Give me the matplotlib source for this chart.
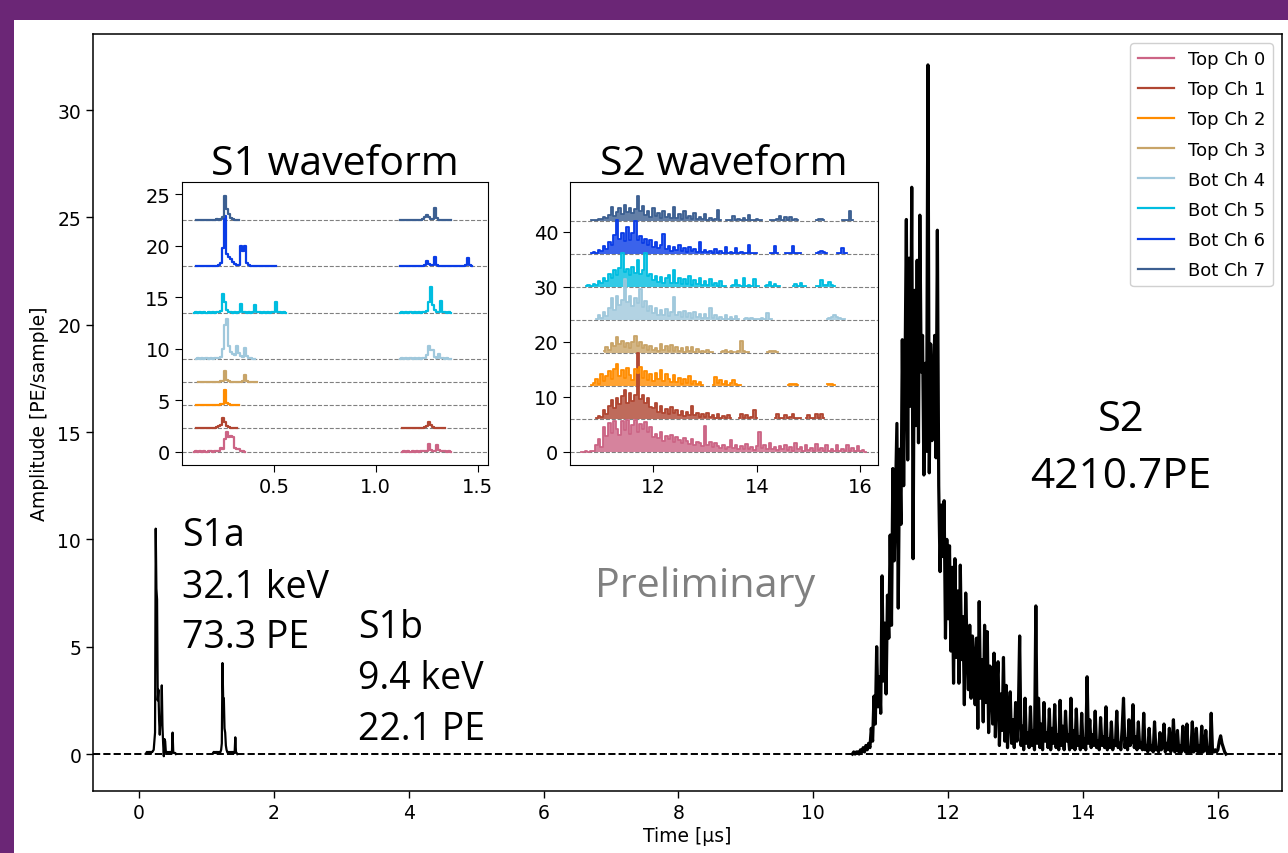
import numpy as np
import matplotlib
matplotlib.use("Agg")
import matplotlib.pyplot as plt
from matplotlib.lines import Line2D
from matplotlib.patches import Rectangle

# ---------------- data ----------------
channel_labels = ["Top Ch 0", "Top Ch 1", "Top Ch 2", "Top Ch 3",
                  "Bot Ch 4", "Bot Ch 5", "Bot Ch 6", "Bot Ch 7"]
channel_colors = ["#cc6485", "#b04632", "#ff8c00", "#c8a468",
                  "#a0c8dc", "#00bde0", "#0a3ce6", "#3c5f91"]

# main summed waveform (PE/sample)
main_dt_s1 = 0.01
s1a_start = 0.11
s1a_vals = [0.05, 0.1, 0.05, 0.1, 0.05, 0.1, 0.1, 0.05, 0.1, 0.1,
            0.15, 0.2, 0.6, 1.0, 10.5, 7.7, 7.2, 2.5, 3.0, 1.6,
            0.9, 1.6, 1.4, 3.2, 1.3, 0.5, -0.1, 0.7, 0.6, 0.1,
            0.05, 0.1, 0.05, 0.05, 0.1, 0.05, 0.1, 0.05, 0.05, 1.0,
            0.1, 0.05, 0.05, 0.05, 0.0]
s1b_start = 1.10
s1b_vals = [0.05, 0.1, 0.05, 0.1, 0.05, 0.1, 0.05, 0.1, 0.05, 0.1,
            0.05, 0.1, 0.2, 0.5, 4.24, 2.6, 2.6, 1.2, 1.0, 0.4,
            0.2, 0.1, 0.05, 0.1, 0.05, 0.1, 0.05, 0.1, 0.05, 0.1,
            0.05, 0.1, 0.05, 0.78, 0.1, 0.05, 0.0]
main_dt_s2 = 0.02
s2_start = 10.58
s2_vals = [
    0.0, 0.1, 0.0, 0.1, 0.1, 0.0, 0.2, 0.1, 0.3, 0.1,
    0.4, 0.2, 0.5, 0.3, 1.2, 0.6, 2.7, 1.4, 5.0, 2.2,
    3.6, 1.9, 8.3, 3.4, 6.1, 2.8, 7.4, 5.4, 10.2, 6.0,
    13.3, 9.0, 12.1, 15.4, 6.8, 14.2, 10.7, 19.3, 12.5, 17.6,
    24.9, 13.7, 23.1, 16.2, 26.4, 9.1, 21.6, 15.3, 23.0, 14.5,
    25.1, 17.8, 19.5, 13.0, 18.2, 14.1, 32.1, 13.1, 19.1, 14.6,
    17.4, 19.5, 13.8, 24.4, 12.5, 8.5, 11.6, 9.2, 11.8, 5.4,
    10.0, 6.3, 9.7, 4.8, 8.7, 3.3, 9.1, 4.5, 7.6, 3.3,
    8.8, 4.4, 6.4, 2.3, 7.5, 5.1, 3.0, 6.0, 2.6, 5.5,
    4.4, 2.3, 5.4, 1.2, 7.1, 2.6, 4.4, 1.5, 6.0, 2.4,
    5.7, 1.0, 4.1, 3.3, 1.4, 4.7, 0.8, 3.1, 4.3, 0.4,
    2.8, 1.1, 4.5, 0.6, 3.2, 0.3, 2.0, 2.9, 0.5, 1.6,
    0.3, 2.4, 0.6, 1.8, 5.5, 0.4, 1.3, 0.2, 2.6, 0.5,
    1.0, 0.3, 2.2, 0.4, 1.1, 0.2, 6.9, 0.5, 2.6, 0.3,
    1.4, 0.2, 2.4, 0.6, 1.0, 0.3, 2.1, 0.2, 1.2, 0.5,
    2.3, 0.3, 0.9, 0.2, 2.5, 0.4, 1.3, 0.2, 2.0, 0.6,
    0.9, 0.2, 2.6, 0.3, 1.1, 0.2, 2.1, 0.4, 0.8, 0.2,
    1.9, 0.3, 0.7, 0.2, 3.6, 0.5, 1.6, 0.3, 0.9, 0.4,
    2.0, 0.3, 0.6, 0.2, 1.7, 0.4, 0.8, 0.3, 2.2, 0.2,
    0.7, 0.3, 1.5, 0.2, 0.6, 0.4, 2.0, 0.3, 0.5, 0.2,
    1.2, 2.6, 0.3, 0.7, 0.2, 1.6, 0.4, 0.6, 2.3, 0.3,
    0.8, 0.2, 1.5, 0.3, 0.5, 0.2, 1.9, 0.2, 0.4, 0.1,
    1.2, 0.2, 0.4, 0.1, 1.5, 0.2, 0.3, 0.1, 1.0, 0.2,
    0.3, 1.4, 0.1, 0.5, 0.2, 1.2, 0.1, 0.3, 1.6, 0.1,
    0.2, 1.1, 0.1, 0.4, 0.1, 1.3, 0.2, 0.1, 1.4, 0.1,
    0.3, 0.1, 1.5, 0.1, 0.2, 1.2, 0.1, 0.4, 0.1, 1.3,
    0.1, 0.2, 1.1, 0.1, 0.3, 0.1, 1.9, 0.1, 0.1, 0.2,
    0.1, 0.2, 0.6, 0.85, 0.5, 0.3, 0.1, 0.0]

# S1 inset: per channel, list of (segment start [us], values at 0.01 us)
s1_dt = 0.01
s1_offsets = [0, 2.25, 4.5, 6.75, 9, 13.5, 18, 22.5]
s1_ch0 = [(0.11, [0, 0.05, 0, 0.05, 0, 0.05, 0, 0.05, 0.05, 0, 0.05, 0.1, 0.1,
                  0.4, 0.3, 1.2, 1.9, 1.4, 1.5, 1.45, 0.4, 0.3, 0.3, 0.1, 0.05, 0]),
          (1.13, [0, 0.05, 0, 0.05, 0, 0.05, 0, 0.05, 0, 0.05, 0.05, 0.1, 0.1,
                  0.75, 0.2, 0.1, 0.1, 0.6, 0.2, 0.1, 0.05, 0.05, 0, 0.05, 0])]
s1_ch1 = [(0.12, [0, 0.05, 0, 0.05, 0, 0.05, 0, 0.05, 0, 0.05, 0.1, 0.2, 0.3,
                  1.0, 0.6, 0.2, 0.1, 0.05, 0.05, 0, 0]),
          (1.13, [0, 0.05, 0, 0.05, 0, 0.05, 0, 0.05, 0, 0.05, 0, 0.1, 0.2,
                  0.6, 0.3, 0.1, 0.05, 0, 0.05, 0, 0.05, 0])]
s1_ch2 = [(0.12, [0, 0.05, 0, 0.05, 0, 0.05, 0, 0.05, 0, 0.05, 0, 0.05, 0.1, 0.1,
                  1.5, 0.2, 0.1, 0.05, 0, 0.05, 0, 0])]
s1_ch3 = [(0.13, [0, 0.05, 0, 0.05, 0, 0.05, 0, 0.05, 0, 0.05, 0.05, 0.1, 0.1,
                  1.07, 0.2, 0.1, 0.05, 0.05, 0, 0.05, 0, 0.05, 0.1, 0.7, 0.1,
                  0.05, 0, 0.05, 0, 0])]
s1_ch4 = [(0.12, [0, 0.05, 0, 0.05, 0, 0.05, 0, 0.05, 0, 0.05, 0.05, 0.1, 0.2,
                  1.0, 3.3, 3.9, 1.3, 0.7, 0.5, 0.4, 1.3, 0.6, 0.3, 0.2, 1.1,
                  0.3, 0.1, 0.05, 0, 0]),
          (1.12, [0, 0.05, 0, 0.05, 0, 0.05, 0, 0.05, 0, 0.05, 0, 0.05, 0.1,
                  0.4, 1.3, 0.9, 0.9, 0.2, 0.1, 0.5, 0.1, 0.05, 0, 0.05, 0, 0])]
s1_ch5 = [(0.11, [0, 0.05, 0, 0.05, 0, 0.05, 0, 0.05, 0, 0.05, 0, 0.05, 0.1, 0.2,
                  1.8, 1.0, 0.3, 0.1, 0.05, 0, 0.05, 0, 0.05, 0.8, 0.1, 0.05, 0,
                  0.05, 0, 0.05, 0.7, 0.1, 0.05, 0, 0.05, 0, 0.05, 0, 0.05, 0.1,
                  1.0, 0.1, 0.05, 0, 0.05, 0]),
          (1.12, [0, 0.05, 0, 0.05, 0, 0.05, 0, 0.05, 0, 0.05, 0, 0.05, 0.1, 0.2,
                  1.0, 2.5, 0.7, 0.3, 0.1, 0.05, 1.1, 0.1, 0.05, 0, 0.05, 0])]
s1_ch6 = [(0.12, [0, 0.05, 0, 0.05, 0, 0.05, 0, 0.05, 0, 0.05, 0.05, 0.1,
                  0.3, 1.8, 4.9, 1.2, 0.9, 0.7, 0.4, 0.2, 0.1, 0.1, 2.0, 1.5,
                  2.0, 0.3, 0.1, 0.05, 0, 0.05, 0, 0.05, 0, 0.05, 0, 0.05, 0,
                  0.05, 0, 0]),
          (1.12, [0, 0.05, 0, 0.05, 0, 0.05, 0, 0.05, 0, 0.05, 0, 0.05, 0.1,
                  0.5, 0.2, 0.1, 0.1, 0.95, 0.1, 0.05, 0, 0.05, 0, 0.05, 0,
                  0.05, 0, 0.05, 0, 0.05, 0, 0.05, 0.1, 0.8, 0.1, 0])]
s1_ch7 = [(0.12, [0, 0.05, 0, 0.05, 0, 0.05, 0, 0.05, 0, 0.05, 0.1, 0.05, 0.1,
                  0.3, 2.3, 1.1, 0.6, 0.2, 0.1, 0.05, 0, 0]),
          (1.12, [0, 0.05, 0, 0.05, 0, 0.05, 0, 0.05, 0, 0.05, 0, 0.1,
                  0.3, 0.5, 0.3, 0.1, 0.1, 1.15, 0.2, 0.05, 0, 0.05, 0, 0.05, 0, 0])]
s1_channels = [s1_ch0, s1_ch1, s1_ch2, s1_ch3, s1_ch4, s1_ch5, s1_ch6, s1_ch7]

# S2 inset: per channel, list of (segment start [us], values at 0.05 us)
s2_dt = 0.05
s2_offsets = [0, 6, 12, 18, 24, 30, 36, 42]
s2_ch0 = [(10.60, [0.0, 0.0, 0.1, 0.0, 0.1, 0.2,
                   1.2, 2.3, 0.8,
                   4.5, 2.9, 5.2, 3.4, 5.6, 4.1, 3.0, 5.5, 4.0, 5.7, 3.2, 4.9, 5.8, 3.5, 5.0, 4.2, 5.4,
                   3.6, 4.4, 2.7,
                   3.3, 2.4, 3.5, 2.0, 2.9, 2.3, 3.1, 1.8, 2.6, 2.2, 1.6, 2.4,
                   1.9, 1.4, 2.3, 1.2, 1.8, 1.5, 1.0, 4.7, 1.3, 1.7, 0.9, 1.6, 1.1, 0.7,
                   1.3, 0.5, 0.9, 2.1, 0.6, 1.2, 0.4, 1.0, 0.5, 1.4, 0.4, 0.8, 0.3, 1.1,
                   3.5, 0.6, 1.2, 0.4, 1.6, 0.5, 0.9, 0.3, 1.0, 0.4,
                   1.3, 0.3, 0.8, 0.2, 1.5, 0.4, 0.9, 0.2, 1.2, 0.3, 0.7, 0.2, 1.4, 0.3,
                   0.6, 0.2, 1.3, 0.2, 0.5, 0.1, 1.2, 0.2, 0.4, 0.1, 1.3, 0.2, 0.6, 0.1,
                   1.1, 0.2, 0.3, 0.0])]
s2_ch1 = [(10.90, [0.2, 0.5, 0.3, 1.5, 0.8, 2.4, 3.4, 1.9, 3.8, 2.6, 4.1, 5.2, 2.9,
                   4.6, 3.3, 4.3, 11.9, 3.6, 4.4, 2.8, 3.7, 2.2, 1.9, 2.8, 1.3, 2.3,
                   1.0, 1.8, 0.9, 2.1, 1.1, 1.6, 0.6, 1.4, 0.5, 1.2, 0.7, 2.4, 0.6,
                   1.0, 0.3, 0.9, 0.4, 1.1, 0.3, 0.6, 0.2, 0.8, 0.2, 0.5, 0.1, 0.7, 0.1]),
          (13.65, [0.1, 0.9, 0.2, 0.6, 0.1, 0.3, 1.5, 0.1]),
          (14.35, [0.1, 0.8, 0.1, 0.2, 0.7, 0.1, 0.3, 0.8, 0.1, 0.2, 0.1]),
          (14.95, [0.1, 0.7, 0.1, 0.2, 0.8, 0.1, 0.8, 0.1])]
s2_ch2 = [(10.80, [0.1, 0.5, 1.3, 0.4, 2.2, 0.9, 1.8, 2.6, 1.2, 3.1, 4.0, 1.7, 2.9,
                   1.4, 3.3, 2.0, 1.1, 3.0, 2.3, 3.4, 1.5, 2.7, 1.0, 2.1, 0.8, 2.4,
                   1.2, 2.8, 0.9, 2.2, 1.3, 0.7, 1.9, 0.6, 1.5, 0.4, 1.2, 0.5, 1.7,
                   0.4, 0.9, 0.3, 0.6, 0.1]),
          (13.15, [0.2, 1.6, 0.5, 1.0, 0.3, 0.8, 0.2, 0.5, 1.0, 0.3, 0.2, 0.1]),
          (14.60, [0.1, 0.4, 0.3, 0.4, 0.1]),
          (15.35, [0.3, 0.3, 0.3, 0.2])]
s2_ch3 = [(11.05, [0.3, 1.1, 0.6, 1.8, 1.3, 2.9, 1.6, 2.1, 1.0, 1.7, 0.8, 1.9, 3.0,
                   1.2, 2.0, 0.9, 1.5, 0.6, 1.3, 0.5, 0.9, 0.4, 1.6, 0.5, 1.2, 0.3,
                   1.4, 0.4, 1.1, 0.3, 0.8, 0.2, 1.0, 0.3, 1.1, 0.2, 0.7, 0.1, 0.4,
                   0.1, 0.6, 0.1, 0.1]),
          (13.30, [0.1, 0.4, 0.6, 0.2, 0.3, 0.1]),
          (13.60, [0.1, 0.3, 2.1, 0.3, 0.2, 0.1]),
          (14.20, [0.1, 0.3, 0.4, 0.3, 0.1])]
s2_ch4 = [(10.90, [0.2, 0.8, 0.4, 1.4, 0.7, 2.1, 3.9, 1.8, 4.3, 2.7, 3.6, 7.5, 3.2,
                   4.4, 2.6, 4.0, 3.1, 5.7, 2.4, 3.5, 1.6, 2.6, 1.2, 2.2, 0.9, 1.8,
                   0.8, 2.0, 0.7, 1.5, 4.2, 0.9, 1.4, 0.5, 1.7, 0.6, 1.3, 0.4, 1.5,
                   0.5, 1.0, 0.3, 1.1, 0.4, 2.1, 0.3, 0.8, 0.2, 0.6, 0.2, 0.9, 0.2,
                   0.5, 0.1, 0.7, 0.1]),
          (13.75, [0.1, 0.3, 0.2, 0.4, 0.1, 0.2, 0.1, 0.3, 0.2, 1.3, 0.2, 0.1]),
          (15.35, [0.1, 0.3, 0.6, 0.85, 0.5, 0.3, 0.1, 0.1])]
s2_ch5 = [(10.70, [0.1, 0.3, 0.2, 0.6, 0.4, 1.0, 0.7, 1.6, 1.1, 2.3, 1.6, 3.0, 2.2,
                   3.5, 6.1, 2.8, 3.3, 2.1, 3.6, 2.5, 4.9, 2.3, 3.1, 6.1, 1.9, 2.4,
                   1.2, 2.0, 0.9, 1.8, 0.8, 1.6, 2.1, 0.7, 3.0, 0.8, 1.7, 0.5, 1.4,
                   0.6, 1.9, 0.4, 1.2, 0.5, 1.6, 0.3, 1.0, 0.4, 1.5, 0.3, 0.7, 0.2,
                   1.1, 0.2, 0.1]),
          (13.50, [0.1, 0.3, 1.3, 0.3, 0.2, 1.6, 0.2, 0.4, 0.2, 1.4, 0.2, 0.1]),
          (14.15, [0.1, 0.3, 0.9, 0.2, 0.6, 0.2, 0.1]),
          (14.70, [0.1, 0.5, 0.2, 0.8, 0.2, 0.1]),
          (15.15, [0.1, 0.2, 1.2, 0.3, 0.4, 0.9, 0.3, 0.1])]
s2_ch6 = [(10.80, [0.1, 0.4, 0.2, 0.8, 0.5, 1.5, 0.9, 2.2, 1.6, 3.4, 6.1, 2.7, 3.9,
                   2.4, 4.9, 2.6, 3.8, 6.0, 2.5, 3.3, 2.0, 2.8, 1.7, 2.5, 1.3, 2.1,
                   1.0, 1.7, 3.7, 0.9, 1.5, 0.6, 1.3, 0.7, 1.6, 0.5, 1.1, 0.4, 1.2,
                   0.5, 0.9, 0.3, 2.2, 0.4, 0.8, 0.3, 0.6, 0.2, 0.9, 0.2, 0.5, 0.1,
                   1.2, 0.2, 0.4, 0.1, 1.0, 0.1, 0.3, 0.1, 0.2, 1.7, 0.1, 0.2, 0.1]),
          (14.25, [0.1, 0.2, 1.5, 0.1]),
          (14.55, [0.1, 0.2, 0.1, 1.5, 0.2, 0.1, 0.1]),
          (15.15, [0.1, 0.4, 0.6, 0.3, 0.1]),
          (15.55, [0.1, 0.2, 1.0, 0.2, 0.1])]
s2_ch7 = [(10.80, [0.1, 0.2, 0.1, 0.4, 0.3, 0.7, 0.5, 1.1, 2.6, 1.0, 1.7, 2.3, 1.2,
                   2.9, 1.6, 2.4, 1.4, 2.1, 4.6, 1.8, 2.7, 1.1, 1.9, 0.8, 2.3, 0.9,
                   1.4, 0.6, 1.8, 0.7, 1.2, 0.5, 2.5, 0.6, 1.3, 0.4, 1.9, 0.5, 1.0,
                   0.3, 1.5, 0.4, 0.8, 0.3, 1.2, 0.2, 0.6, 0.2, 0.3, 2.0, 0.1]),
          (13.40, [0.1, 0.2, 0.1, 1.0, 0.2, 0.3, 0.1, 0.6, 0.1, 1.1, 0.2, 0.1, 0.4, 0.1, 0.1]),
          (14.25, [0.1, 0.2, 0.1, 0.4, 0.9, 0.2, 0.8, 0.2, 0.7, 0.1, 0.4, 0.1]),
          (15.15, [0.1, 0.3, 0.4, 0.1]),
          (15.65, [0.1, 0.1, 0.2, 1.9, 0.1])]
s2_channels = [s2_ch0, s2_ch1, s2_ch2, s2_ch3, s2_ch4, s2_ch5, s2_ch6, s2_ch7]

x_ticks_main = [0, 2, 4, 6, 8, 10, 12, 14, 16]
y_ticks_main = [0, 5, 10, 15, 20, 25, 30]

# ---------------- figure ----------------
W, H = 1288, 854
fig = plt.figure(figsize=(W / 100, H / 100), dpi=100)
fig.patch.set_facecolor("white")

purple = "#6b2676"
fig.patches.append(Rectangle((0, 1 - 21 / H), 1, 21 / H, transform=fig.transFigure,
                             facecolor=purple, edgecolor="none", zorder=-10))
fig.patches.append(Rectangle((0, 0), 14 / W, 1, transform=fig.transFigure,
                             facecolor=purple, edgecolor="none", zorder=-10))


def fbox(l, t, r, b):
    return [l / W, 1 - b / H, (r - l) / W, (b - t) / H]


ax = fig.add_axes(fbox(93, 35, 1282, 792))
FS = 13.5


def seg_times(start, n, dt):
    return start + dt * np.arange(n)


ax.plot(seg_times(s1a_start, len(s1a_vals), main_dt_s1), s1a_vals, color="black", lw=1.6)
ax.plot(seg_times(s1b_start, len(s1b_vals), main_dt_s1), s1b_vals, color="black", lw=1.6)
ax.plot(seg_times(s2_start, len(s2_vals), main_dt_s2), s2_vals, color="black", lw=2.3)
ax.axhline(0, color="black", ls="--", lw=1.4, zorder=1)
ax.set_xlim(-0.68, 16.95)
ax.set_ylim(-1.72, 33.54)
ax.set_xticks(x_ticks_main)
ax.set_yticks(y_ticks_main)
ax.tick_params(labelsize=FS, length=5, width=1)
ax.set_xlabel("Time [µs]", fontsize=FS, labelpad=3)
ax.set_ylabel("Amplitude [PE/sample]", fontsize=FS, labelpad=6)
for s in ax.spines.values():
    s.set_linewidth(1.1)

handles = [Line2D([0], [0], color=c, lw=1.6) for c in channel_colors]
ax.legend(handles, channel_labels, loc="upper right", fontsize=13, framealpha=1,
          edgecolor="#d0d0d0", labelspacing=0.67)

# annotations
ann_font = "Open Sans"


def ptext(x, y, s, size, color="black", ha="left"):
    fig.text(x / W, 1 - y / H, s, fontsize=size, family=ann_font, color=color,
             ha=ha, va="baseline")


ptext(182, 546, "S1a", 27)
ptext(182, 598, "32.1 keV", 27)
ptext(182, 648, "73.3 PE", 27)
ptext(358, 638, "S1b", 27)
ptext(358, 689, "9.4 keV", 27)
ptext(358, 740, "22.1 PE", 27)
ptext(1121, 431, "S2", 30, ha="center")
ptext(1121, 488, "4210.7PE", 30.5, ha="center")
ptext(705, 597, "Preliminary", 29.8, color="#808080", ha="center")

# insets
IFS = 14
ax1 = fig.add_axes(fbox(182, 183, 488, 466))
for segs, off, col in zip(s1_channels, s1_offsets, channel_colors):
    ax1.axhline(off, color="#808080", ls="--", lw=0.8, zorder=1)
    for start, vals in segs:
        ax1.plot(seg_times(start, len(vals), s1_dt), off + np.array(vals),
                 color=col, lw=1.6, drawstyle="steps-mid", zorder=2)
ax1.set_xlim(0.05, 1.55)
ax1.set_ylim(-1.3, 26.2)
ax1.set_xticks([0.5, 1.0, 1.5])
ax1.set_yticks([0, 5, 10, 15, 20, 25])
ax1.tick_params(labelsize=IFS, length=5)
ax1.text(0.5, 1.028, "S1 waveform", transform=ax1.transAxes, ha="center",
         va="baseline", fontsize=29.5, family=ann_font)

ax2 = fig.add_axes(fbox(570, 183, 878, 466))
for segs, off, col in zip(s2_channels, s2_offsets, channel_colors):
    ax2.axhline(off, color="#808080", ls="--", lw=0.8, zorder=1)
    for start, vals in segs:
        tt = seg_times(start, len(vals), s2_dt)
        yy = off + np.array(vals)
        ax2.fill_between(tt, off, yy, step="mid", color=col, alpha=0.8, lw=0, zorder=2)
        ax2.plot(tt, yy, color=col, lw=1.3, drawstyle="steps-mid", zorder=3)
ax2.set_xlim(10.39, 16.34)
ax2.set_ylim(-2.43, 49.1)
ax2.set_xticks([12, 14, 16])
ax2.set_yticks([0, 10, 20, 30, 40])
ax2.tick_params(labelsize=IFS, length=5)
ax2.text(0.5, 1.028, "S2 waveform", transform=ax2.transAxes, ha="center",
         va="baseline", fontsize=29.5, family=ann_font)

fig.savefig("out.png", dpi=100, facecolor=fig.get_facecolor())
